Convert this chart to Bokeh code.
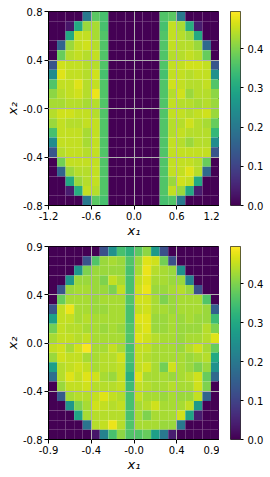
import numpy as np
from bokeh.plotting import figure
from bokeh.layouts import column, row
from bokeh.models import ColumnDataSource, FixedTicker, LinearColorMapper, CustomJSTickFormatter
from bokeh.palettes import Viridis256
from bokeh.embed import file_html
from bokeh.resources import INLINE

# ---------------- data ----------------
top_x_range = (-1.2, 1.2)
top_y_range = (-0.8, 0.8)
top_x_labels = ["-1.2", "-0.6", "0.0", "0.6", "1.2"]
top_y_labels = ["-0.8", "-0.4", "-0.0", "0.4", "0.8"]

bot_x_range = (-0.88, 0.87)
bot_y_range = (-0.84, 0.86)
bot_x_labels = ["-0.9", "-0.4", "-0.0", "0.4", "0.9"]
bot_y_labels = ["-0.8", "-0.4", "0.0", "0.4", "0.9"]

cbar_ticks = [0.0, 0.1, 0.2, 0.3, 0.4]
cbar_labels = ["0.0", "0.1", "0.2", "0.3", "0.4"]
v_max = 0.495

x_title = "x\u2081"
y_title = "x\u2082"

# rows listed top (max y) to bottom (min y), columns left to right
z_top = [
    [0, 0, 0, 0, .20, .37, .35, 0, 0, 0, 0, 0, 0, .36, .37, .20, 0, 0, 0, 0],
    [0, 0, .03, .30, .42, .43, .35, 0, 0, 0, 0, 0, 0, .35, .45, .43, .31, .04, 0, 0],
    [0, 0, .30, .45, .45, .43, .36, 0, 0, 0, 0, 0, 0, .36, .45, .44, .42, .30, 0, 0],
    [0, .16, .42, .45, .46, .44, .36, 0, 0, 0, 0, 0, 0, .36, .45, .44, .44, .42, .17, 0],
    [0, .38, .44, .45, .44, .45, .36, 0, 0, 0, 0, 0, 0, .36, .44, .44, .45, .44, .38, 0],
    [.13, .46, .45, .45, .44, .44, .36, 0, 0, 0, 0, 0, 0, .36, .45, .45, .46, .46, .45, .13],
    [.24, .47, .45, .45, .44, .46, .35, 0, 0, 0, 0, 0, 0, .35, .45, .45, .44, .45, .45, .25],
    [.36, .45, .45, .47, .44, .45, .36, 0, 0, 0, 0, 0, 0, .36, .46, .45, .44, .44, .45, .36],
    [.41, .44, .45, .46, .44, .48, .36, 0, 0, 0, 0, 0, 0, .36, .44, .46, .42, .44, .44, .41],
    [.43, .43, .44, .44, .43, .44, .36, 0, 0, 0, 0, 0, 0, .36, .45, .44, .44, .43, .44, .42],
    [.44, .46, .46, .45, .45, .44, .36, 0, 0, 0, 0, 0, 0, .36, .45, .45, .44, .45, .46, .42],
    [.42, .45, .44, .44, .45, .45, .36, 0, 0, 0, 0, 0, 0, .36, .44, .44, .46, .44, .43, .38],
    [.35, .45, .45, .45, .43, .45, .36, 0, 0, 0, 0, 0, 0, .36, .44, .45, .44, .44, .44, .33],
    [.24, .45, .45, .45, .43, .45, .36, 0, 0, 0, 0, 0, 0, .36, .45, .44, .42, .44, .44, .24],
    [.13, .44, .45, .45, .44, .45, .36, 0, 0, 0, 0, 0, 0, .36, .45, .45, .45, .45, .45, .13],
    [0, .39, .45, .45, .45, .45, .36, 0, 0, 0, 0, 0, 0, .36, .45, .45, .45, .44, .38, 0],
    [0, .16, .42, .44, .44, .45, .36, 0, 0, 0, 0, 0, 0, .36, .45, .45, .47, .44, .17, 0],
    [0, 0, .30, .42, .44, .45, .36, 0, 0, 0, 0, 0, 0, .36, .42, .46, .45, .30, 0, 0],
    [0, 0, .04, .31, .45, .44, .36, 0, 0, 0, 0, 0, 0, .36, .45, .42, .30, .04, 0, 0],
    [0, 0, 0, 0, .20, .37, .35, 0, 0, 0, 0, 0, 0, .35, .36, .20, 0, 0, 0, 0],
]

z_bot = [
    [0, 0, 0, 0, 0, 0, .12, .25, .35, .32, .37, .41, .27, .12, 0, 0, 0, 0, 0, 0],
    [0, 0, 0, 0, .13, .36, .42, .43, .42, .36, .42, .47, .46, .39, .12, 0, 0, 0, 0, 0],
    [0, 0, 0, .26, .40, .42, .42, .42, .42, .35, .43, .48, .44, .43, .42, .25, 0, 0, 0, 0],
    [0, 0, .26, .42, .42, .42, .40, .45, .43, .35, .45, .47, .43, .43, .42, .42, .22, 0, 0, 0],
    [0, .13, .42, .43, .43, .42, .42, .40, .45, .35, .46, .48, .42, .42, .43, .44, .42, .12, 0, 0],
    [0, .38, .43, .43, .43, .42, .43, .43, .43, .36, .46, .46, .43, .40, .42, .43, .43, .43, .36, 0],
    [.13, .45, .48, .43, .43, .42, .42, .43, .43, .35, .45, .46, .43, .43, .42, .43, .43, .43, .42, .15],
    [.28, .45, .45, .43, .44, .43, .43, .43, .43, .35, .47, .47, .42, .42, .43, .42, .43, .42, .42, .34],
    [.39, .45, .44, .44, .43, .43, .42, .43, .42, .36, .46, .47, .42, .42, .43, .42, .42, .42, .44, .40],
    [.43, .45, .45, .44, .45, .43, .43, .43, .43, .36, .47, .46, .44, .43, .43, .42, .43, .43, .44, .47],
    [.45, .46, .43, .46, .49, .43, .43, .45, .43, .35, .45, .45, .43, .43, .43, .42, .44, .46, .43, .38],
    [.42, .46, .45, .45, .43, .43, .44, .44, .46, .35, .45, .44, .43, .43, .43, .43, .42, .43, .44, .30],
    [.28, .44, .45, .46, .45, .43, .44, .44, .45, .34, .45, .46, .43, .39, .46, .43, .42, .40, .42, .25],
    [.18, .44, .47, .45, .47, .46, .43, .42, .45, .31, .47, .43, .43, .43, .42, .43, .44, .46, .38, .17],
    [0, .42, .45, .45, .46, .44, .44, .44, .45, .34, .45, .44, .43, .43, .44, .43, .43, .46, .40, 0],
    [0, .14, .43, .44, .44, .45, .47, .45, .44, .35, .45, .43, .43, .42, .43, .42, .42, .45, .16, 0],
    [0, 0, .26, .40, .43, .46, .45, .44, .45, .35, .43, .44, .46, .43, .43, .43, .45, .27, 0, 0],
    [0, 0, 0, .29, .43, .44, .44, .44, .44, .35, .43, .40, .43, .43, .43, .46, .29, .04, 0, 0],
    [0, 0, 0, 0, .19, .44, .45, .48, .44, .36, .43, .43, .43, .42, .42, .20, 0, 0, 0, 0],
    [0, 0, 0, 0, 0, .03, .22, .35, .41, .36, .36, .38, .28, .20, .04, 0, 0, 0, 0, 0],
]

# ---------------- style ----------------
FONT = "DejaVu Sans"
FRAME_W = 171
mapper = LinearColorMapper(palette=Viridis256, low=0.0, high=v_max)


def fixed_labels(ticks, labels):
    return CustomJSTickFormatter(
        args=dict(tv=list(ticks), tl=list(labels)),
        code="""
        for (let i = 0; i < tv.length; i++) {
            if (Math.abs(tick - tv[i]) < 1e-9) return tl[i];
        }
        return '';
        """,
    )


def style_axis(ax):
    ax.major_tick_out = 4
    ax.major_tick_in = 0
    ax.minor_tick_out = 0
    ax.minor_tick_in = 0
    ax.major_tick_line_color = "black"
    ax.axis_line_color = "black"
    ax.major_label_text_font = FONT
    ax.major_label_text_font_size = "10px"
    ax.major_label_text_color = "black"
    ax.major_label_standoff = 2
    ax.axis_label_text_font = FONT
    ax.axis_label_text_font_size = "13px"
    ax.axis_label_text_font_style = "italic"
    ax.axis_label_text_color = "black"
    ax.axis_label_standoff = 0


def heatmap(z, xr, yr, xlabels, ylabels, top_border, frame_h, bottom_border):
    z = np.array(z, dtype=float)
    nrows, ncols = z.shape
    xe = np.linspace(xr[0], xr[1], ncols + 1)
    ye = np.linspace(yr[1], yr[0], nrows + 1)
    L, R, T, B, V = [], [], [], [], []
    for i in range(nrows):
        for j in range(ncols):
            L.append(xe[j]); R.append(xe[j + 1])
            T.append(ye[i]); B.append(ye[i + 1])
            V.append(z[i, j])
    src = ColumnDataSource(dict(left=L, right=R, top=T, bottom=B, v=V))
    p = figure(frame_width=FRAME_W, frame_height=frame_h, x_range=xr, y_range=yr,
               output_backend="svg", toolbar_location=None,
               min_border_left=48, min_border_right=0, min_border_top=top_border,
               min_border_bottom=bottom_border)
    p.quad(left="left", right="right", top="top", bottom="bottom", source=src,
           fill_color={"field": "v", "transform": mapper}, line_color=None)
    xt = np.linspace(xr[0], xr[1], len(xlabels))
    yt = np.linspace(yr[0], yr[1], len(ylabels))
    p.xaxis.ticker = FixedTicker(ticks=list(xt))
    p.yaxis.ticker = FixedTicker(ticks=list(yt))
    p.xgrid.ticker = FixedTicker(ticks=list(xt))
    p.ygrid.ticker = FixedTicker(ticks=list(yt))
    p.xaxis.formatter = fixed_labels(xt, xlabels)
    p.yaxis.formatter = fixed_labels(yt, ylabels)
    p.xaxis.axis_label = x_title
    p.yaxis.axis_label = y_title
    style_axis(p.xaxis)
    style_axis(p.yaxis)
    p.grid.grid_line_color = "#b0b0b0"
    p.grid.grid_line_width = 1
    p.grid.level = "overlay"
    p.outline_line_color = "black"
    p.outline_line_width = 1
    p.background_fill_color = "white"
    p.border_fill_color = "white"
    return p


def colorbar(top_border, frame_h):
    c = figure(frame_width=10, frame_height=frame_h, x_range=(0, 1), y_range=(0, v_max),
               x_axis_location=None, y_axis_location="right",
               output_backend="svg", toolbar_location=None,
               min_border_left=11, min_border_right=0, min_border_top=top_border,
               min_border_bottom=10)
    grad = np.linspace(0, v_max, 256).reshape(256, 1)
    c.image(image=[grad], x=0, y=0, dw=1, dh=v_max, color_mapper=mapper)
    c.yaxis.ticker = FixedTicker(ticks=cbar_ticks)
    c.yaxis.formatter = fixed_labels(cbar_ticks, cbar_labels)
    style_axis(c.yaxis)
    c.yaxis.major_tick_out = 3
    c.yaxis.major_label_standoff = 4
    c.yaxis.axis_line_color = None
    c.grid.visible = False
    c.outline_line_color = "#333333"
    c.outline_line_width = 1
    c.border_fill_color = "white"
    return c


p1 = heatmap(z_top, top_x_range, top_y_range, top_x_labels, top_y_labels, 11, 194, 34)
c1 = colorbar(11, 194)
p2 = heatmap(z_bot, bot_x_range, bot_y_range, bot_x_labels, bot_y_labels, 6, 193, 34)
c2 = colorbar(6, 193)

layout = column(row(p1, c1), row(p2, c2))

with open("out.html", "w") as f:
    f.write(file_html(layout, INLINE))
